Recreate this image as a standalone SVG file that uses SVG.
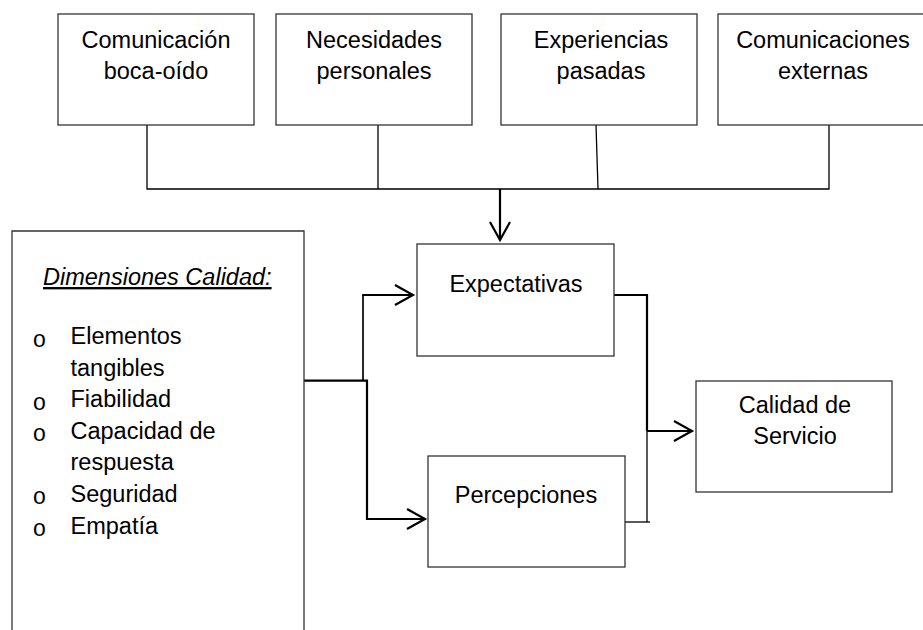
<svg xmlns="http://www.w3.org/2000/svg" width="923" height="630" viewBox="0 0 923 630">
<style>
.box{fill:#fff;stroke:#333;stroke-width:1.3}
.t{font-family:"Liberation Sans",Arial,sans-serif;font-size:23.5px;fill:#000;text-anchor:middle}
.tl{font-family:"Liberation Sans",Arial,sans-serif;font-size:23.5px;fill:#000}
.bul{font-family:"Liberation Mono","Courier New",monospace;font-size:23px;fill:#000;text-anchor:middle}
.thin{fill:none;stroke:#000;stroke-width:1.3}
.thick{fill:none;stroke:#000;stroke-width:2.2}
</style>
<defs>
<marker id="arr" markerUnits="userSpaceOnUse" markerWidth="24" markerHeight="26" viewBox="-20 -12 24 24" refX="0" refY="0" orient="auto">
<path d="M-18,-10 L0,0 L-18,10" fill="none" stroke="#000" stroke-width="2.2"/>
</marker>
</defs>
<rect width="923" height="630" fill="#fff"/>
<g id="connectors">
<path class="thin" d="M147,125 V189 H829 V125"/>
<path class="thin" d="M378,125 V189"/>
<path class="thin" d="M596,125 L598,189"/>
<path class="thick" d="M500,189 V240" marker-end="url(#arr)"/>
<path class="thick" d="M304,380.7 H367 V519 H425" marker-end="url(#arr)"/>
<path fill="none" stroke="#000" stroke-width="1.7" d="M363,380.7 V295"/>
<path class="thick" d="M362.2,295 H413" marker-end="url(#arr)"/>
<path class="thick" d="M614,295 H647 V431"/>
<path class="thick" d="M647,431 H692" marker-end="url(#arr)"/>
<path class="thin" d="M647,431 V522"/>
<path class="thin" d="M623,522 H650"/>
</g>
<g id="comunicacion">
<rect class="box" x="58" y="14" width="196" height="111"/>
<text class="t" x="156" y="48">Comunicación</text>
<text class="t" x="156" y="79">boca-oído</text>
</g>
<g id="necesidades">
<rect class="box" x="276" y="14" width="196" height="111"/>
<text class="t" x="374" y="48">Necesidades</text>
<text class="t" x="374" y="79">personales</text>
</g>
<g id="experiencias">
<rect class="box" x="501" y="14" width="196" height="111"/>
<text class="t" x="601" y="48">Experiencias</text>
<text class="t" x="601" y="79">pasadas</text>
</g>
<g id="comunicaciones">
<rect class="box" x="718" y="14" width="212" height="111"/>
<text class="t" x="823" y="48">Comunicaciones</text>
<text class="t" x="823" y="79">externas</text>
</g>
<g id="dimensiones">
<path class="box" d="M12,640 V231 H304 V640"/>
<text class="tl" x="43" y="285" font-style="italic" text-decoration="underline">Dimensiones Calidad:</text>
<text class="bul" x="39.3" y="346.5">o</text>
<text class="tl" x="70.5" y="344">Elementos</text>
<text class="tl" x="70.5" y="375.6">tangibles</text>
<text class="bul" x="39.3" y="409.5">o</text>
<text class="tl" x="70.5" y="407.2">Fiabilidad</text>
<text class="bul" x="39.3" y="441">o</text>
<text class="tl" x="70.5" y="438.8">Capacidad de</text>
<text class="tl" x="70.5" y="470.4">respuesta</text>
<text class="bul" x="39.3" y="504.2">o</text>
<text class="tl" x="70.5" y="502">Seguridad</text>
<text class="bul" x="39.3" y="535.8">o</text>
<text class="tl" x="70.5" y="533.6">Empatía</text>
</g>
<g id="expectativas">
<rect class="box" x="417" y="244" width="197" height="112"/>
<text class="t" x="516" y="292">Expectativas</text>
</g>
<g id="percepciones">
<rect class="box" x="428" y="456" width="197" height="111"/>
<text class="t" x="526" y="503">Percepciones</text>
</g>
<g id="calidad">
<rect class="box" x="696" y="381" width="196" height="111"/>
<text class="t" x="795" y="413">Calidad de</text>
<text class="t" x="795" y="444">Servicio</text>
</g>
</svg>
